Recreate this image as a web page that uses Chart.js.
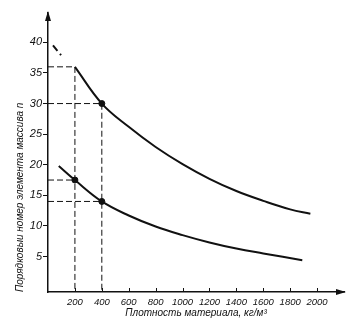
<!DOCTYPE html>
<html><head><meta charset="utf-8">
<script src="https://cdn.jsdelivr.net/npm/chart.js@4/dist/chart.umd.min.js"></script>
<style>html,body{margin:0;padding:0;background:#fff}#wrap{width:361px;height:335px}</style>
</head><body><div id="wrap"><canvas id="c" width="361" height="335"></canvas></div>
<script>
// Upper curve (n vs density)
const upperDensity = [200, 400, 600, 800, 1000, 1200, 1400, 1600, 1800, 1950];
const upperN       = [36, 30, 26.2, 22.9, 20.1, 17.7, 15.7, 14.1, 12.7, 12.0];
// dashed extension of upper curve near the axis
const upperExtDensity = [37, 97];
const upperExtN       = [39.5, 37.9];
// Lower curve
const lowerDensity = [80, 200, 400, 600, 800, 1000, 1200, 1400, 1600, 1890];
const lowerN       = [19.8, 17.5, 14.0, 11.7, 9.9, 8.5, 7.3, 6.3, 5.5, 4.4];
// marked points and guide lines
const markDensity = [400, 200, 400];
const markN       = [30, 17.5, 14.0];
const guideDensity = [200, 400, 200, 400];
const guideN       = [36, 30, 17.5, 14.0];
const guideToAxis  = [true, true, false, false];
// axis ticks
const xTickLabels = [200, 400, 600, 800, 1000, 1200, 1400, 1600, 1800, 2000];
const yTickLabels = [5, 10, 15, 20, 25, 30, 35, 40];
const xMin = 0, xMax = 2200, yMin = -0.8, yMax = 44.8;

const pts = (xs, ys) => xs.map((x, i) => ({x, y: ys[i]}));
const ink = '#111';
const datasets = [
  {data: pts(upperDensity, upperN), borderColor: ink, borderWidth: 2, pointRadius: 0, tension: 0.4},
  {data: pts(upperExtDensity, upperExtN), borderColor: ink, borderWidth: 2, pointRadius: 0, borderDash: [7, 4]},
  {data: pts(lowerDensity, lowerN), borderColor: ink, borderWidth: 2, pointRadius: 0, tension: 0.4},
  {data: pts(markDensity, markN), showLine: false, pointRadius: 3, pointBackgroundColor: ink, pointBorderColor: ink}
];
guideDensity.forEach((d, i) => {
  const line = [{x: xMin, y: guideN[i]}, {x: d, y: guideN[i]}];
  if (guideToAxis[i]) line.push({x: d, y: yMin});
  datasets.push({data: line, borderColor: ink, borderWidth: 1, pointRadius: 0, borderDash: [6, 3]});
});

const axisDeco = {
  id: 'axisDeco',
  afterDraw(chart) {
    const {ctx, chartArea: a, scales: {x}} = chart;
    ctx.save();
    ctx.fillStyle = ink; ctx.strokeStyle = ink; ctx.lineWidth = 1;
    ctx.beginPath();
    ctx.moveTo(a.left, a.top - 2); ctx.lineTo(a.left - 3, a.top + 8); ctx.lineTo(a.left + 3, a.top + 8); ctx.closePath(); ctx.fill();
    ctx.beginPath();
    ctx.moveTo(a.right + 2, a.bottom); ctx.lineTo(a.right - 8, a.bottom - 3); ctx.lineTo(a.right - 8, a.bottom + 3); ctx.closePath(); ctx.fill();
    xTickLabels.forEach(v => {
      const px = Math.round(x.getPixelForValue(v)) + 0.5;
      ctx.beginPath(); ctx.moveTo(px, a.bottom); ctx.lineTo(px, a.bottom - 4); ctx.stroke();
    });
    ctx.restore();
  }
};

new Chart(document.getElementById('c'), {
  type: 'line',
  data: {datasets},
  options: {
    responsive: false, animation: false, devicePixelRatio: 1,
    layout: {padding: {left: 0, top: 13, right: 17, bottom: 0}},
    plugins: {legend: {display: false}, tooltip: {enabled: false}},
    scales: {
      x: {
        type: 'linear', min: xMin, max: xMax,
        border: {display: true, color: ink, width: 1.5},
        grid: {drawOnChartArea: false, drawTicks: false},
        afterBuildTicks: s => { s.ticks = xTickLabels.map(v => ({value: v})); },
        ticks: {color: ink, font: {family: 'Liberation Sans', size: 9.5, style: 'italic'}, padding: 5, maxRotation: 0, autoSkip: false,
          callback: v => String(v)},
        title: {display: true, text: 'Плотность материала, кг/м³', color: ink,
          font: {family: 'Liberation Sans', size: 10, style: 'italic'}, padding: {top: 0, bottom: 16}},
        afterFit: s => { s.height = 43; }
      },
      y: {
        type: 'linear', min: yMin, max: yMax,
        border: {display: true, color: ink, width: 1.5},
        grid: {drawOnChartArea: false, drawTicks: true, tickLength: 5, color: ink},
        afterBuildTicks: s => { s.ticks = yTickLabels.map(v => ({value: v})); },
        ticks: {color: ink, font: {family: 'Liberation Sans', size: 11, style: 'italic'}, padding: 1, autoSkip: false,
          callback: v => String(v)},
        title: {display: true, text: 'Порядковыи номер элемента массива n', color: ink, align: 'start',
          font: {family: 'Liberation Sans', size: 10, style: 'italic'}, padding: {top: 14, bottom: 0}},
        afterFit: s => { s.width = 48; }
      }
    }
  },
  plugins: [axisDeco]
});
</script>
</body></html>
